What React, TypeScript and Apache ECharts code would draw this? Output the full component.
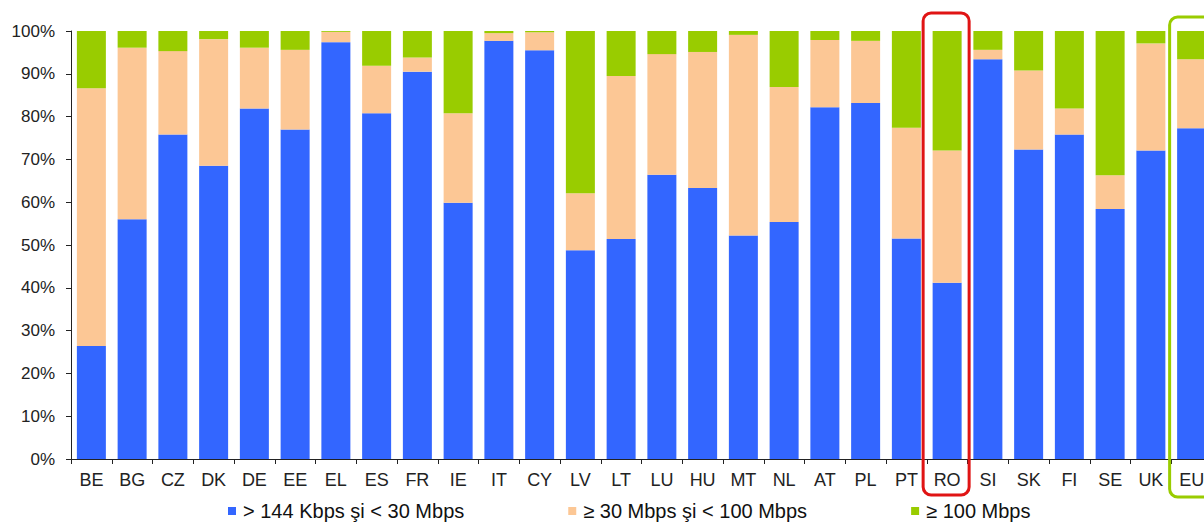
import React, { useEffect, useRef } from "react";
import * as echarts from "echarts";

// Country codes along the x axis (EU average last)
const countries = [
  "BE", "BG", "CZ", "DK", "DE", "EE", "EL", "ES", "FR", "IE", "IT", "CY", "LV", "LT",
  "LU", "HU", "MT", "NL", "AT", "PL", "PT", "RO", "SI", "SK", "FI", "SE", "UK", "EU",
];

// Share of fixed broadband subscriptions by speed band (%)
const lowSpeed = [
  26.4, 56.0, 75.8, 68.5, 81.9, 77.0, 97.4, 80.8, 90.5, 59.9, 97.7, 95.5, 48.8, 51.4,
  66.4, 63.3, 52.2, 55.4, 82.2, 83.2, 51.5, 41.2, 93.4, 72.3, 75.8, 58.4, 72.1, 77.3,
];
const midSpeed = [
  60.2, 40.1, 19.5, 29.6, 14.2, 18.6, 2.4, 11.1, 3.3, 20.9, 1.8, 4.2, 13.3, 38.1,
  28.2, 31.8, 46.9, 31.5, 15.7, 14.5, 25.9, 30.9, 2.2, 18.5, 6.1, 7.9, 25.0, 16.1,
];
const highSpeed = [
  13.4, 3.9, 4.7, 1.9, 3.9, 4.4, 0.2, 8.1, 6.2, 19.2, 0.5, 0.3, 37.9, 10.5,
  5.4, 4.9, 0.9, 13.1, 2.1, 2.3, 22.6, 27.9, 4.4, 9.2, 18.1, 33.7, 2.9, 6.6,
];

const seriesNames = [
  "> 144 Kbps şi < 30 Mbps",
  "≥ 30 Mbps şi < 100 Mbps",
  "≥ 100 Mbps",
];

const yTicks = { min: 0, max: 100, interval: 10 };

const FONT = "Arial, 'Liberation Sans', sans-serif";

export default function App() {
  const ref = useRef<HTMLDivElement>(null);

  useEffect(() => {
    if (!ref.current) return;
    const chart = echarts.init(ref.current, null, { renderer: "svg" });

    const bar = (name: string, data: number[], color: string) => ({
      name,
      type: "bar",
      stack: "total",
      data,
      barWidth: 29,
      itemStyle: { color },
      emphasis: { disabled: true },
    });

    chart.setOption({
      animation: false,
      grid: { left: 71, right: 0, top: 31, bottom: 63, containLabel: false },
      legend: {
        data: seriesNames,
        left: 223,
        top: 496,
        itemWidth: 8,
        itemHeight: 8,
        itemGap: 104,
        icon: "rect",
        selectedMode: false,
        textStyle: {
          fontFamily: FONT,
          fontSize: 20,
          color: "#111",
          padding: [0, 0, 0, 2],
        },
      },
      xAxis: {
        type: "category",
        data: countries,
        axisLine: { lineStyle: { color: "#222", width: 1 } },
        axisTick: { show: true, length: 5, alignWithLabel: false, lineStyle: { color: "#222" } },
        axisLabel: {
          interval: 0,
          margin: 12,
          fontFamily: FONT,
          fontSize: 18,
          color: "#222",
        },
      },
      yAxis: {
        type: "value",
        min: yTicks.min,
        max: yTicks.max,
        interval: yTicks.interval,
        axisLine: { show: true, lineStyle: { color: "#222", width: 1 } },
        axisTick: { show: true, length: 5, lineStyle: { color: "#222" } },
        splitLine: { show: false },
        axisLabel: {
          formatter: "{value}%",
          margin: 16,
          fontFamily: FONT,
          fontSize: 17,
          color: "#222",
        },
      },
      series: [
        bar(seriesNames[0], lowSpeed, "#3366FF"),
        bar(seriesNames[1], midSpeed, "#FCC795"),
        bar(seriesNames[2], highSpeed, "#99CC00"),
      ],
    });

    // Highlight frames around Romania and the EU average columns
    const roX = chart.convertToPixel({ xAxisIndex: 0 }, "RO") as number;
    const euX = chart.convertToPixel({ xAxisIndex: 0 }, "EU") as number;
    chart.setOption({
      graphic: [
        {
          type: "rect",
          shape: { x: roX - 24, y: 13, width: 46, height: 482, r: 8 },
          style: { fill: "none", stroke: "#E01414", lineWidth: 3 },
          z: 100,
        },
        {
          type: "rect",
          shape: { x: euX - 22, y: 17, width: 60, height: 480, r: 8 },
          style: { fill: "none", stroke: "#99CC00", lineWidth: 3 },
          z: 100,
        },
      ],
    });

    return () => chart.dispose();
  }, []);

  // The chart is slightly wider than the frame, so the last column is clipped at the right edge
  return (
    <div
      style={{
        position: "fixed",
        left: 0,
        top: 0,
        width: 1204,
        height: 522,
        overflow: "hidden",
        background: "#fff",
      }}
    >
      <div ref={ref} style={{ width: 1212, height: 522 }} />
    </div>
  );
}
